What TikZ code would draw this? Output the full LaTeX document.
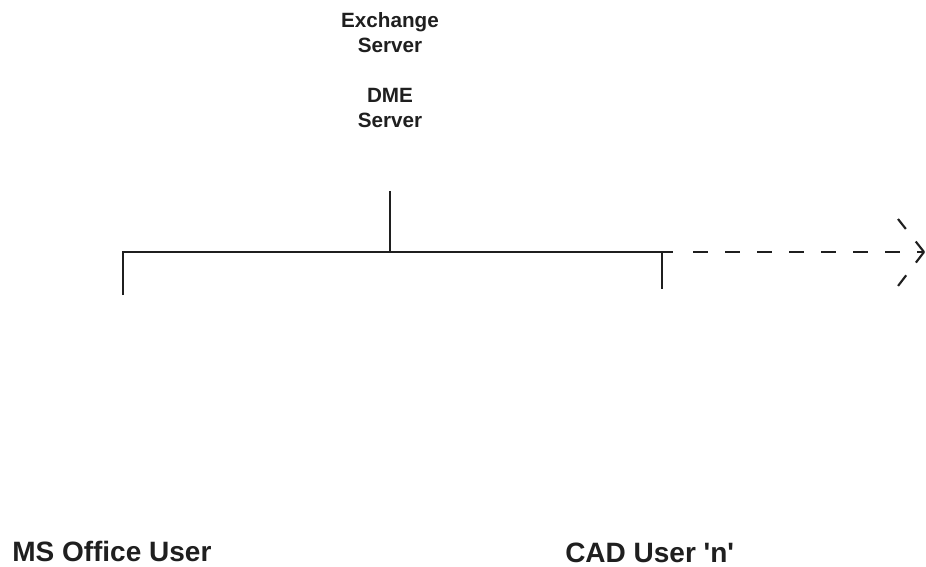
\documentclass[tikz,border=0pt]{standalone}
\usepackage{fontspec}
\setmainfont{Liberation Sans}
\begin{document}
\begin{tikzpicture}[x=0.75pt,y=-0.75pt,
  wire/.style={line width=1.6pt,color=black!88},
  dwire/.style={wire,dash pattern=on 11.5pt off 12.5pt},
  toplabel/.style={font=\bfseries\fontsize{15.5}{19}\selectfont,align=center,inner sep=0pt,text=black!88},
  userlabel/.style={font=\bfseries\fontsize{21}{25}\selectfont,anchor=base west,inner sep=0pt,text=black!88}]
\useasboundingbox (0,0) rectangle (926,567);
\node[toplabel] (exch) at (390,32.5) {Exchange\\Server};
\node[toplabel] (dme) at (390,108) {DME\\Server};
\coordinate (stemtop) at (390,191);
\coordinate (junc) at (390,252);
\coordinate (lcorner) at (123,252);
\coordinate (lbot) at (123,295);
\coordinate (rt) at (662,252);
\coordinate (rbot) at (662,289);
\coordinate (solidend) at (673,252);
\coordinate (dashstart) at (693,252);
\coordinate (tip) at (924,252);
\coordinate (barbup) at (898,219);
\coordinate (barbdn) at (898,286);
\draw[wire] (stemtop) -- (junc);
\draw[wire] (lbot) -- (lcorner) -- (solidend);
\draw[wire] (rt) -- (rbot);
\draw[dwire] (dashstart) -- (tip);
\draw[wire,dash pattern=on 10pt off 12pt] (tip) -- (barbup);
\draw[wire,dash pattern=on 10pt off 12pt] (tip) -- (barbdn);
\node[userlabel] (ms) at (12,561) {MS Office User};
\node[userlabel] (cad) at (565,562.5) {CAD User \textquotesingle n\textquotesingle};
\end{tikzpicture}
\end{document}
